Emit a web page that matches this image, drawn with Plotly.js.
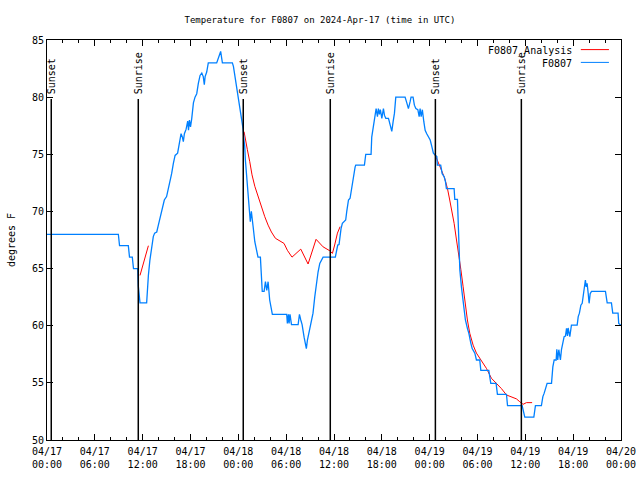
<!DOCTYPE html>
<html>
<head>
<meta charset="utf-8">
<script src="https://cdn.plot.ly/plotly-3.0.1.min.js"></script>
<style>html,body{margin:0;padding:0;background:#fff;}</style>
</head>
<body>
<div id="chart" style="width:640px;height:480px;"></div>
<script>
// ---- data (hours after 2024-04-17 00:00 UTC, degrees F) ----
const startDate = '2024-04-17T00:00:00Z';

const stationHours = [0.0,8.95,9.1,10.2,10.35,10.7,10.85,11.38,11.45,11.55,11.67,12.5,12.6,12.71,12.9,13.05,13.2,13.34,13.5,13.76,13.97,14.39,14.72,15.0,15.22,15.43,15.64,15.85,16.06,16.39,16.6,16.81,16.98,17.1,17.23,17.45,17.65,17.75,17.86,18.0,18.15,18.36,18.57,18.78,18.99,19.2,19.41,19.6,19.74,19.83,20.04,20.24,21.29,21.5,21.79,22.0,23.25,23.38,23.59,23.8,24.0,24.22,24.43,24.6,24.72,24.8,24.88,25.0,25.13,25.3,25.43,25.5,25.64,25.72,25.85,26.06,26.27,26.47,26.76,26.9,27.0,27.23,27.4,27.56,27.73,27.94,28.15,28.27,30.07,30.15,30.28,30.36,30.49,30.66,31.5,31.66,31.83,32.0,32.25,32.41,32.54,32.66,32.83,33.16,33.37,33.58,33.79,34.0,34.21,34.42,34.63,36.17,36.3,36.47,36.64,36.76,36.89,37.05,37.3,37.47,37.6,37.81,38.02,38.23,38.44,38.65,38.73,39.82,39.98,40.65,40.74,40.95,41.15,41.28,41.45,41.57,41.7,41.82,42.0,42.2,42.33,42.5,42.83,43.04,43.25,43.41,43.58,43.75,44.92,45.13,45.34,45.55,45.67,45.92,46.09,46.26,46.51,46.68,46.8,46.93,47.09,47.26,47.43,47.64,47.84,48.06,48.27,48.47,48.68,48.9,48.97,49.39,49.56,49.81,49.98,50.1,51.07,51.15,51.48,51.57,51.66,51.78,51.99,52.16,52.32,52.49,52.74,52.91,53.16,53.33,53.66,53.87,54.29,54.42,55.42,55.54,55.67,56.34,56.5,57.63,57.76,59.6,59.94,61.07,61.27,62.02,62.2,62.36,62.61,62.74,63.28,63.45,63.61,63.86,63.95,64.07,64.2,64.4,64.53,64.7,64.87,65.03,65.16,65.28,65.37,65.58,65.66,65.78,66.5,66.63,66.79,66.96,67.13,67.3,67.42,67.54,67.63,67.75,67.88,68.0,68.13,68.3,70.05,70.26,70.8,70.97,71.64,71.72,71.93,72.0];
const stationTemps = [68,68,67,67,66,66,65,65,63.5,62.7,62,62,63.5,64.4,65.7,66.5,66.9,67.8,68.1,68.2,68.8,70,71,71.3,72,72.5,73.3,74.2,74.9,75.1,75.8,76.8,76.5,76.1,76.8,77.2,77.9,77.1,78.0,77.4,78.1,79.5,80.0,80.3,81.2,81.9,82.1,81.8,81.1,81.8,82.2,83.0,83.0,83.5,84.0,83.0,83.0,82.7,81.8,80.9,79.8,78.9,78.0,77.2,76.2,75.7,74.5,73.3,71.9,70.7,69.7,69.1,70.0,69.6,68.7,67.35,66.8,66.0,66.0,63.85,63.0,63.0,63.85,63.1,63.85,62.25,61.5,61.0,61.0,60.2,61.0,60.2,61.0,60.1,60.1,61.0,60.5,60.1,59.0,58.5,58.0,58.75,59.3,60.2,61.1,62.5,63.7,64.7,65.45,65.75,66.0,66.0,66.6,67.06,67.1,67.9,68.5,68.96,69.1,69.25,70.0,71.0,71.15,72.2,73.2,73.9,74.06,74.06,75.0,75.0,76.5,77.4,78.6,79.0,78.3,79.0,78.5,78.9,78.15,79.0,78.4,78.15,78.15,77.7,77.0,77.85,78.6,80.0,80.0,79.5,79.0,79.6,80.0,80.0,79.3,79.0,78.9,78.3,79.0,78.3,78.9,77.85,77.1,76.8,76.5,76.25,75.7,75.1,74.94,74.8,74.06,74.06,73.3,73.04,72.6,72.0,72.0,71.06,71.06,69.54,66.6,64.9,63.4,62.25,61.4,60.5,59.77,59.33,58.46,58.0,57.6,57.0,57.0,56.1,56.1,55.54,54.96,54.96,54.0,54.0,53.0,53.0,52.0,52.0,53.0,53.0,53.8,54.1,54.8,54.96,54.96,56.4,57.0,57.0,57.94,57.0,57.9,57.0,57.9,58.6,59.04,59.1,59.77,59.1,59.8,59.04,59.77,60.06,60.06,60.8,61.1,61.8,61.96,62.7,63.56,64.0,63.4,63.7,62.84,61.96,62.8,63.0,63.0,62.0,62.0,61.1,61.1,60.2,60.06,60.0];

const analysisHours = [11.67,12.71,null,24.72,24.88,25.13,25.43,25.72,26.06,26.47,26.9,27.31,27.73,28.15,28.65,29.2,29.74,30.15,30.74,31.83,32.75,33.75,34.63,35.47,35.8,36.09,36.43,36.76,null,48.68,49.06,49.48,49.89,50.23,50.52,50.81,51.07,51.36,51.66,51.91,52.2,52.49,52.74,53.04,53.45,53.87,54.49,55.12,55.75,56.38,57.0,57.63,58.26,58.88,59.3,59.72,60.14,60.85];
const analysisTemps = [64.4,67.0,null,76.98,76.25,75.4,74.35,73.2,72.2,71.3,70.4,69.54,68.8,68.2,67.65,67.44,67.2,66.6,66.0,66.7,65.4,67.56,66.9,66.56,66.33,67.06,68.1,68.67,null,74.94,74.35,73.6,72.9,72.0,71.0,70.0,68.96,67.5,66.2,64.9,63.4,61.8,60.5,59.33,58.3,57.6,56.94,56.27,55.4,54.96,54.5,53.94,53.8,53.6,53.35,53.12,53.27,53.27];

const eventHours = [0.54, 11.45, 24.62, 35.54, 48.71, 59.5];
const eventLabels = ['Sunset','Sunrise','Sunset','Sunrise','Sunset','Sunrise'];

const yTickVals = [50,55,60,65,70,75,80,85];
const legendNames = ['F0807_Analysis','F0807'];
const lineColors = ['#ff0000','#0080ff'];

// ---- helpers ----
const t0 = Date.parse(startDate);
function toTime(h){
  if (h === null) return null;
  return new Date(t0 + Math.round(h*60)*60000).toISOString().slice(0,19).replace('T',' ');
}

const traces = [
  {x: analysisHours.map(toTime), y: analysisTemps, type:'scatter', mode:'lines', name: legendNames[0],
   line:{color: lineColors[0], width:1}, connectgaps:false, showlegend:false},
  {x: stationHours.map(toTime), y: stationTemps, type:'scatter', mode:'lines', name: legendNames[1],
   line:{color: lineColors[1], width:1.3}, showlegend:false}
];

const lineTop = 0.8525;
const shapes = eventHours.map(h => ({
  type:'line', xref:'x', yref:'paper', x0: toTime(h), x1: toTime(h), y0:0, y1: lineTop,
  line:{color:'black', width:1.5}
}));
const annotations = eventHours.map((h,i) => ({
  x: toTime(h), xref:'x', y: lineTop, yref:'paper', text: eventLabels[i], showarrow:false,
  textangle:-90, xanchor:'center', yanchor:'bottom', xshift:1, yshift:3,
  font:{family:'DejaVu Sans Mono', size:10, color:'black'}
}));

// manual legend (text left of line sample, as in the reference)
const legY = [0.973, 0.941];
legendNames.forEach((n,i) => {
  annotations.push({x:0.918, xref:'paper', y:legY[i], yref:'paper', text:n, showarrow:false,
    xanchor:'right', yanchor:'middle', font:{family:'DejaVu Sans Mono', size:10, color:'black'}});
  shapes.push({type:'line', xref:'paper', yref:'paper', x0:0.930, x1:0.979, y0:legY[i]+0.003, y1:legY[i]+0.003,
    line:{color: lineColors[i], width:1}});
});

const layout = {
  width:640, height:480,
  margin:{l:47, r:19, t:40, b:40, pad:0},
  paper_bgcolor:'#ffffff', plot_bgcolor:'#ffffff',
  font:{family:'DejaVu Sans Mono', size:10, color:'black'},
  title:{text:'Temperature for F0807 on 2024-Apr-17 (time in UTC)', x:0.5, xref:'container', xanchor:'center',
         y:0.958, yref:'container', yanchor:'middle', font:{family:'DejaVu Sans Mono', size:9, color:'black'}},
  xaxis:{type:'date', range:[toTime(0), toTime(72)], tick0:toTime(0), dtick:6*3600000,
         tickformat:'%m/%d<br>%H:%M', ticks:'inside', ticklen:6, tickwidth:1, tickcolor:'black',
         showline:true, linecolor:'black', linewidth:1, mirror:'ticks', showgrid:false, zeroline:false,
         ticklabelstandoff:2,
         minor:{dtick:2*3600000, ticks:'inside', ticklen:3, tickwidth:1, tickcolor:'black', showgrid:false},
         tickfont:{family:'DejaVu Sans Mono', size:10, color:'black'}},
  yaxis:{range:[50,85], tickvals:yTickVals, ticktext:yTickVals.map(String), ticks:'inside', ticklen:6, tickwidth:1,
         tickcolor:'black', showline:true, linecolor:'black', linewidth:1, mirror:'ticks', showgrid:false, zeroline:false,
         tickfont:{family:'DejaVu Sans Mono', size:10, color:'black'},
         title:{text:'degrees F', font:{family:'DejaVu Sans Mono', size:10, color:'black'}, standoff:14}},
  shapes: shapes,
  annotations: annotations,
  showlegend:false
};

Plotly.newPlot('chart', traces, layout, {displayModeBar:false, staticPlot:true});
</script>
</body>
</html>
